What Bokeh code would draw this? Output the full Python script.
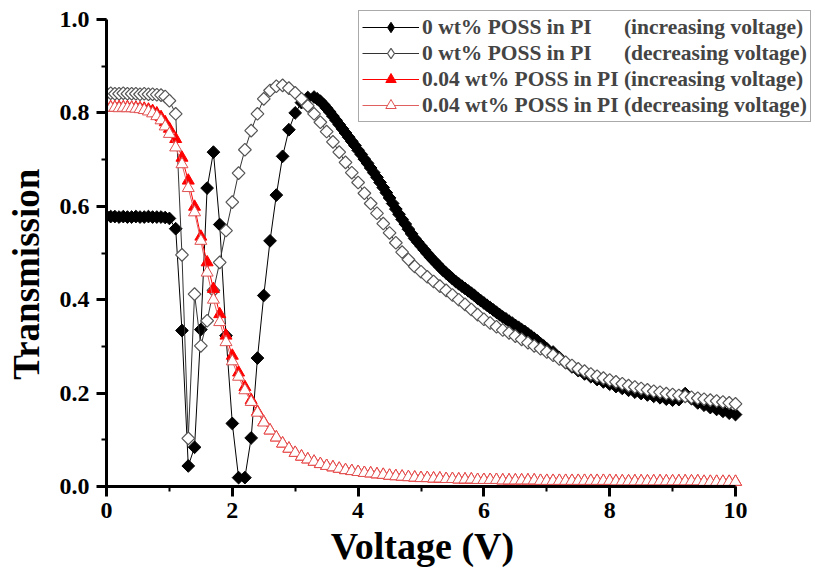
import numpy as np
from bokeh.plotting import figure
from bokeh.models import (Legend, LegendItem, SingleIntervalTicker, NumeralTickFormatter)
from bokeh.embed import file_html
from bokeh.resources import INLINE

# ---------------- data ----------------
flat_v = [0.0, 0.067, 0.133, 0.2, 0.267, 0.333, 0.4, 0.467, 0.533, 0.6, 0.667, 0.733, 0.8, 0.867, 0.933, 1.0]

# 0 wt% POSS, increasing voltage
v_inc0 = flat_v + [1.1, 1.2, 1.3, 1.4, 1.5, 1.6, 1.7, 1.8, 1.9, 2.0, 2.1, 2.2, 2.3, 2.4, 2.5, 2.6, 2.7, 2.8, 2.9, 3.0, 3.1, 3.2,
    3.3, 3.35, 3.4, 3.45, 3.5, 3.55, 3.6, 3.65, 3.7, 3.75, 3.8, 3.85, 3.9, 3.95, 4.0, 4.05, 4.1, 4.15, 4.2, 4.25,
    4.3, 4.35, 4.4, 4.45, 4.5, 4.55, 4.6, 4.65, 4.7, 4.75, 4.8, 4.85, 4.9, 4.95, 5.0, 5.05, 5.1, 5.15, 5.2, 5.25,
    5.3, 5.35, 5.4, 5.45, 5.5, 5.55, 5.6, 5.65, 5.7, 5.75, 5.8, 5.85, 5.9, 5.95, 6.0, 6.05, 6.1, 6.15, 6.2, 6.25,
    6.3, 6.35, 6.4, 6.45, 6.5, 6.55, 6.6, 6.65, 6.7, 6.75, 6.8, 6.85, 6.9, 6.95, 7.0,
    7.1, 7.2, 7.3, 7.4, 7.5, 7.6, 7.7, 7.8, 7.9, 8.0, 8.1, 8.2, 8.3, 8.4, 8.5, 8.6, 8.7, 8.8, 8.9, 9.0,
    9.1, 9.2, 9.3, 9.4, 9.5, 9.6, 9.7, 9.8, 9.9, 10.0]
t_inc0 = [0.579, 0.578, 0.578, 0.577, 0.578, 0.577, 0.577, 0.578, 0.577, 0.577, 0.578, 0.577, 0.577, 0.577, 0.576, 0.574,
    0.552, 0.334, 0.044, 0.084, 0.336, 0.639, 0.716, 0.561, 0.323, 0.135, 0.019, 0.019, 0.104, 0.275, 0.409, 0.526,
    0.624, 0.707, 0.764, 0.800, 0.822, 0.833,
    0.834, 0.830, 0.825, 0.818, 0.810, 0.802, 0.793, 0.784, 0.775, 0.766, 0.757, 0.748, 0.739, 0.730, 0.720, 0.711,
    0.701, 0.692, 0.682, 0.672, 0.662, 0.651, 0.640, 0.629, 0.618, 0.606, 0.594, 0.583, 0.572, 0.562, 0.551, 0.541,
    0.531, 0.523, 0.515, 0.507, 0.499, 0.491, 0.484, 0.477, 0.470, 0.463, 0.457, 0.451, 0.445, 0.439, 0.434, 0.429,
    0.424, 0.419, 0.414, 0.409, 0.403, 0.398, 0.393, 0.388, 0.383, 0.378, 0.373, 0.368, 0.363, 0.359, 0.354, 0.350,
    0.345, 0.341, 0.336, 0.332, 0.327, 0.322, 0.317, 0.312, 0.306, 0.301, 0.295,
    0.288, 0.276, 0.265, 0.256, 0.248, 0.241, 0.235, 0.229, 0.224, 0.219, 0.214, 0.210, 0.206, 0.202, 0.199, 0.196,
    0.193, 0.190, 0.187, 0.185, 0.186, 0.199, 0.188, 0.179, 0.174, 0.169, 0.165, 0.161, 0.157, 0.154]

step_v = [1.1, 1.2, 1.3, 1.4, 1.5, 1.6, 1.7, 1.8, 1.9, 2.0, 2.1, 2.2, 2.3, 2.4, 2.5, 2.6, 2.7, 2.8, 2.9, 3.0,
    3.1, 3.2, 3.3, 3.4, 3.5, 3.6, 3.7, 3.8, 3.9, 4.0, 4.1, 4.2, 4.3, 4.4, 4.5, 4.6, 4.7, 4.8, 4.9, 5.0,
    5.1, 5.2, 5.3, 5.4, 5.5, 5.6, 5.7, 5.8, 5.9, 6.0, 6.1, 6.2, 6.3, 6.4, 6.5, 6.6, 6.7, 6.8, 6.9, 7.0,
    7.1, 7.2, 7.3, 7.4, 7.5, 7.6, 7.7, 7.8, 7.9, 8.0, 8.1, 8.2, 8.3, 8.4, 8.5, 8.6, 8.7, 8.8, 8.9, 9.0,
    9.1, 9.2, 9.3, 9.4, 9.5, 9.6, 9.7, 9.8, 9.9, 10.0]

# 0 wt% POSS, decreasing voltage
v_dec0 = flat_v + step_v
t_dec0 = [0.842, 0.842, 0.841, 0.841, 0.842, 0.841, 0.841, 0.841, 0.840, 0.841, 0.840, 0.840, 0.839, 0.838, 0.835, 0.826,
    0.798, 0.496, 0.103, 0.412, 0.301, 0.355, 0.420, 0.480, 0.548, 0.609, 0.671, 0.721, 0.762, 0.798, 0.830, 0.848,
    0.857, 0.859, 0.853, 0.843, 0.830, 0.815, 0.798, 0.780, 0.760, 0.738, 0.716, 0.694, 0.672, 0.651, 0.628, 0.606,
    0.585, 0.563, 0.543, 0.522, 0.502, 0.486, 0.471, 0.460, 0.449, 0.439, 0.429, 0.420, 0.410, 0.400, 0.390, 0.379,
    0.368, 0.358, 0.350, 0.342, 0.335, 0.329, 0.322, 0.315, 0.308, 0.301, 0.295, 0.288, 0.281, 0.273, 0.266, 0.259,
    0.252, 0.247, 0.241, 0.236, 0.232, 0.228, 0.224, 0.220, 0.216, 0.213, 0.210, 0.207, 0.204, 0.202, 0.199, 0.197,
    0.195, 0.193, 0.191, 0.189, 0.187, 0.185, 0.183, 0.181, 0.179, 0.177]

# 0.04 wt% POSS, increasing voltage
v_inc4 = flat_v + step_v
t_inc4 = [0.812, 0.812, 0.812, 0.812, 0.812, 0.812, 0.811, 0.811, 0.810, 0.809, 0.807, 0.804, 0.799, 0.791, 0.780, 0.766,
    0.744, 0.704, 0.655, 0.599, 0.535, 0.480, 0.423, 0.369, 0.323, 0.280, 0.244, 0.213, 0.185, 0.160, 0.138, 0.120,
    0.105, 0.092, 0.081, 0.072, 0.064, 0.058, 0.053, 0.048, 0.044, 0.041, 0.038, 0.035, 0.033, 0.031, 0.029, 0.028,
    0.026, 0.025, 0.023, 0.022, 0.021, 0.020, 0.019, 0.018, 0.018, 0.017, 0.017, 0.016, 0.016, 0.015, 0.015, 0.015,
    0.014, 0.014, 0.014, 0.014, 0.013, 0.013, 0.013, 0.013, 0.013, 0.013, 0.012, 0.012, 0.012, 0.012, 0.012, 0.012,
    0.012, 0.012, 0.012, 0.012, 0.012, 0.012, 0.011, 0.011, 0.011, 0.011, 0.011, 0.011, 0.011, 0.011, 0.011, 0.011,
    0.011, 0.011, 0.011, 0.011, 0.010, 0.010, 0.010, 0.010, 0.010, 0.010]

# 0.04 wt% POSS, decreasing voltage
v_dec4 = flat_v + step_v
t_dec4 = [0.811, 0.811, 0.811, 0.810, 0.811, 0.810, 0.810, 0.809, 0.808, 0.806, 0.803, 0.799, 0.793, 0.784, 0.771, 0.755,
    0.726, 0.690, 0.639, 0.587, 0.526, 0.458, 0.400, 0.352, 0.309, 0.268, 0.235, 0.206, 0.181, 0.158, 0.137, 0.120,
    0.105, 0.092, 0.081, 0.072, 0.064, 0.058, 0.053, 0.048, 0.044, 0.041, 0.038, 0.035, 0.033, 0.031, 0.029, 0.028,
    0.026, 0.025, 0.023, 0.022, 0.021, 0.020, 0.019, 0.018, 0.018, 0.017, 0.017, 0.016, 0.016, 0.015, 0.015, 0.015,
    0.014, 0.014, 0.014, 0.014, 0.013, 0.013, 0.013, 0.013, 0.013, 0.013, 0.012, 0.012, 0.012, 0.012, 0.012, 0.012,
    0.012, 0.012, 0.012, 0.012, 0.012, 0.012, 0.011, 0.011, 0.011, 0.011, 0.011, 0.011, 0.011, 0.011, 0.011, 0.011,
    0.011, 0.011, 0.011, 0.011, 0.010, 0.010, 0.010, 0.010, 0.010, 0.010]

NB = "\u00a0"
labels = [
    "0 wt% POSS in PI" + NB * 6 + "(increasing voltage)",
    "0 wt% POSS in PI" + NB * 6 + "(decreasing voltage)",
    "0.04 wt% POSS in PI" + NB + "(increasing voltage)",
    "0.04 wt% POSS in PI" + NB + "(decreasing voltage)",
]

x_title = "Voltage (V)"
y_title = "Transmission"

FONT = "Liberation Serif"

# ---------------- figure ----------------
# frame is widened to the right / top so the legend (which sticks out of the axes box) is not clipped;
# the axes themselves are limited with `bounds`.
X_END = 10 * 708 / 629
Y_END = 1.0 * 480 / 467
p = figure(width=815, height=577, x_range=(0, X_END), y_range=(0, Y_END),
           output_backend="svg", toolbar_location=None,
           min_border_left=106, min_border_right=1, min_border_top=6, min_border_bottom=91)
p.grid.visible = False
p.outline_line_color = None
p.background_fill_color = "white"
p.border_fill_color = "white"

# series
MS = 9
r1l = p.line(v_inc0, t_inc0, line_color="black", line_width=1)
r1m = p.scatter(v_inc0, t_inc0, marker="square", angle=np.pi / 4, size=MS,
                fill_color="black", line_color="black", line_width=1)
r2l = p.line(v_dec0, t_dec0, line_color="#333333", line_width=1)
r2m = p.scatter(v_dec0, t_dec0, marker="square", angle=np.pi / 4, size=MS,
                fill_color="white", line_color="#555555", line_width=1.2)
r3l = p.line(v_inc4, t_inc4, line_color="red", line_width=1)
r3m = p.scatter(v_inc4, t_inc4, marker="triangle", size=12,
                fill_color="red", line_color="red", line_width=1)
r4l = p.line(v_dec4, t_dec4, line_color="#e06060", line_width=1)
r4m = p.scatter(v_dec4, t_dec4, marker="triangle", size=12,
                fill_color="white", line_color="#e05050", line_width=1)

# legend-only glyphs (hidden; legend markers are always drawn unrotated)
g1 = p.scatter(v_inc0, t_inc0, marker="diamond", fill_color="black", line_color="black", visible=False)
g2 = p.scatter(v_dec0, t_dec0, marker="diamond", fill_color="white", line_color="#555555", line_width=1.2, visible=False)

# axes
xa = p.xaxis[0]
ya = p.yaxis[0]
xa.ticker = SingleIntervalTicker(interval=2, num_minor_ticks=2)
ya.ticker = SingleIntervalTicker(interval=0.2, num_minor_ticks=2)
ya.formatter = NumeralTickFormatter(format="0.0")
xa.bounds = (0, 10)
ya.bounds = (0, 1.0)
for ax in (xa, ya):
    ax.axis_line_width = 3
    ax.axis_line_color = "black"
    ax.major_tick_line_width = 3
    ax.minor_tick_line_width = 2
    ax.major_tick_in = 0
    ax.minor_tick_in = 0
    ax.major_tick_out = 10
    ax.minor_tick_out = 5
    ax.major_label_text_font = FONT
    ax.major_label_text_font_style = "bold"
    ax.major_label_text_font_size = "24px"
    ax.major_label_text_color = "black"
    ax.axis_label_text_font = FONT
    ax.axis_label_text_font_style = "bold"
    ax.axis_label_text_color = "black"
xa.major_label_standoff = 6
ya.major_label_standoff = 7
xa.axis_label = x_title + NB * 8
xa.axis_label_text_font_size = "38px"
xa.axis_label_standoff = 4
ya.axis_label = y_title + NB * 6
ya.axis_label_text_font_size = "37px"
ya.axis_label_standoff = 10

legend = Legend(items=[
    LegendItem(label=labels[0], renderers=[r1l, g1]),
    LegendItem(label=labels[1], renderers=[r2l, g2]),
    LegendItem(label=labels[2], renderers=[r3l, r3m]),
    LegendItem(label=labels[3], renderers=[r4l, r4m]),
], location=(252, 364))
legend.label_text_font = FONT
legend.label_text_font_style = "bold"
legend.label_text_font_size = "21.5px"
legend.glyph_width = 57
legend.glyph_height = 26
legend.label_height = 26
legend.label_standoff = 3
legend.spacing = 0
legend.padding = 3
legend.margin = 0
legend.border_line_color = "#555555"
legend.border_line_width = 1
legend.background_fill_color = "white"
legend.background_fill_alpha = 1
p.add_layout(legend)

open("out.html", "w").write(file_html(p, INLINE))
